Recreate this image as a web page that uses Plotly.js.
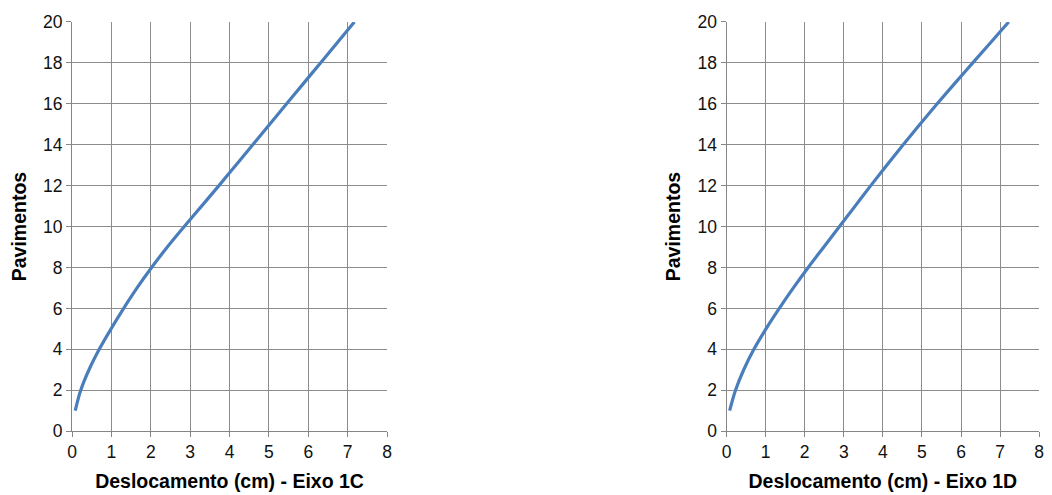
<!DOCTYPE html>
<html><head><meta charset="utf-8">
<script src="https://cdn.plot.ly/plotly-3.0.1.min.js"></script>
<style>html,body{margin:0;padding:0;background:#fff}#c{width:1052px;height:495px}</style>
</head><body><div id="c"></div>
<script>
const floors = [1,2,3,4,5,6,7,8,9,10,11,12,13,14,15,16,17,18,19,20];
const dispC = [0.08,0.22,0.43,0.69,0.99,1.31,1.65,2.02,2.42,2.85,3.29,3.73,4.16,4.59,5.02,5.45,5.88,6.31,6.74,7.17];
const dispD = [0.08,0.23,0.44,0.70,1.01,1.35,1.71,2.09,2.49,2.89,3.29,3.69,4.10,4.52,4.95,5.39,5.84,6.30,6.76,7.22];
const xTicks = [0,1,2,3,4,5,6,7,8];
const yTicks = [0,2,4,6,8,10,12,14,16,18,20];
const xTitleC = "Deslocamento (cm) - Eixo 1C";
const xTitleD = "Deslocamento (cm) - Eixo 1D";
const yTitle = "Pavimentos";

const lineStyle = {color:'#4a7ebb', width:3.2, shape:'spline', smoothing:1};
const traces = [
  {x:dispC, y:floors, type:'scatter', mode:'lines', line:lineStyle, xaxis:'x', yaxis:'y', hoverinfo:'skip'},
  {x:dispD, y:floors, type:'scatter', mode:'lines', line:lineStyle, xaxis:'x2', yaxis:'y2', hoverinfo:'skip'}
];
const tickFont = {family:'Liberation Sans, Arial, sans-serif', size:17.5, color:'#111'};
const titleFont = {family:'Liberation Sans, Arial, sans-serif', size:19.5, color:'#000', weight:'bold'};
function xa(dom, title){
  return {domain:dom, range:[0,8], tickvals:xTicks, ticks:'outside', ticklen:5, tickcolor:'#868686',
    showgrid:true, gridcolor:'#8c8c8c', gridwidth:1, showline:true, linecolor:'#868686', zeroline:false,
    tickfont:tickFont, fixedrange:true,
    title:{text:'<b>'+title+'</b>', font:titleFont, standoff:13}};
}
function ya(dom, anchor){
  return {domain:dom, anchor:anchor, range:[0,20], tickvals:yTicks, ticks:'outside', ticklen:5, tickcolor:'#868686',
    showgrid:true, gridcolor:'#8c8c8c', gridwidth:1, showline:true, linecolor:'#868686', zeroline:false,
    tickfont:tickFont, fixedrange:true,
    title:{text:'<b>'+yTitle+'</b>', font:titleFont, standoff:11}};
}
const yd = [0.129, 0.9556];
const layout = {
  width:1052, height:495, margin:{l:0,r:0,t:0,b:0}, showlegend:false,
  paper_bgcolor:'#fff', plot_bgcolor:'#fff',
  xaxis: Object.assign(xa([0.0685,0.3679], xTitleC), {anchor:'y'}),
  yaxis: ya(yd, 'x'),
  xaxis2: Object.assign(xa([0.6906,0.9878], xTitleD), {anchor:'y2'}),
  yaxis2: ya(yd, 'x2')
};
Plotly.newPlot('c', traces, layout, {staticPlot:true});
</script></body></html>
